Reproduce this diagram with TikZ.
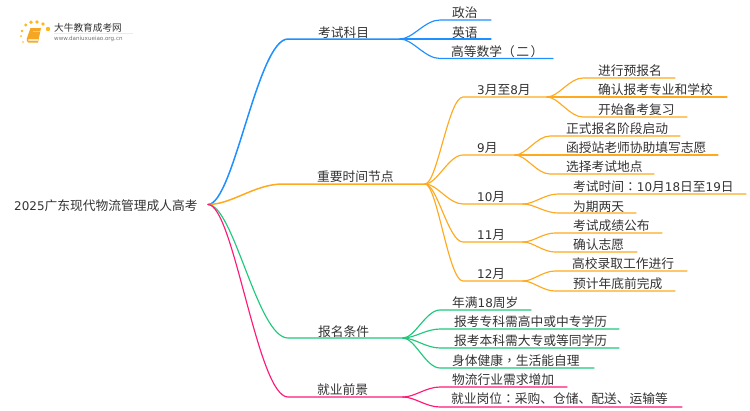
\documentclass[tikz,border=0pt]{standalone}
\usepackage{fontspec}
\setmainfont{Noto Sans CJK SC}
\newfontfamily\latfont{DejaVu Sans}
\newfontfamily\tcfont{Noto Sans CJK TC}
\newcommand{\lat}[1]{{\latfont\fontsize{12}{14}\selectfont #1}}
\newcommand{\tcp}[1]{{\tcfont #1}}
\definecolor{cblue}{HTML}{1E90FF}
\definecolor{corange}{HTML}{FFAA1E}
\definecolor{cgreen}{HTML}{1FC97C}
\definecolor{cpink}{HTML}{FF1A78}
\definecolor{ctext}{HTML}{333333}
\definecolor{cbook}{HTML}{F5A623}
\usetikzlibrary{calc}
\tikzset{
  lbl/.style={anchor=west,inner sep=0pt,yshift=-0.8bp,text=ctext,font=\fontsize{12.8}{14}\selectfont},
  conn/.style={line width=1.15pt,line cap=round},
  mainconn/.style={line width=1.5pt,line cap=round}
}
% \tw{colour}{style}{parent}{name}{xCurveEnd}{y}{xEnd}{textX}{textY}, text in \twtext
\newcommand{\twtext}{}
\newcommand{\tw}[9]{%
  \coordinate (#4s) at (#5,#6);
  \coordinate (#4) at (#7,#6);
  \coordinate (#4p) at ($(#3)!0.32!(#4s)$);
  \coordinate (#4q) at ($(#3)!0.62!(#4s)$);
  \node[lbl] (#4t) at (#8,#9) {\twtext};
  \draw[#1,#2] (#3) .. controls (#4p |- #3) and (#4q |- #4s) .. (#4s) -- (#4);
}
\begin{document}
\begin{tikzpicture}[x=1bp,y=-1bp]
\useasboundingbox (0,0) rectangle (750,410);
\fill[white] (0,0) rectangle (750,410);
% logo
\foreach \a/\b/\r in {25.7/25/1.6,22/31/1.3,21/36/1,23/42/.9,31/22.3/1.9,37/22/1.9,43/24/1.9,48/29/2.2}{
  \fill[corange!85!yellow] (\a,\b) circle (\r);
}
\fill[cbook] (30.5,28) -- (41,28) -- (38,42.5) -- (28.5,42.5) .. controls (26.5,42.5) and (26.5,40) .. (27,38) -- cycle;
\fill[white!70!cbook] (28.5,39) -- (38.5,39) -- (38,41) -- (28.3,41) -- cycle;
\draw[white!40!cbook,line width=.5pt] (33,31) -- (39.5,31);
\node[anchor=west,inner sep=0pt,text=ctext,font=\fontsize{9.7}{11}\selectfont] (logoa) at (54,27.5) {大牛教育成考网};
\node[anchor=west,inner sep=0pt,text=black!55,font=\latfont\fontsize{5.6}{7}\selectfont] (logob) at (54,38.8) {www.daniuxueiao.org.cn};
\draw[black!8,line width=.5pt] (54,33.5) -- (133,33.5);
% root
\node[lbl] (roott) at (14,205) {\lat{2025}广东现代物流管理成人高考};
\coordinate (root) at (208,204.5);
% level 1
\renewcommand{\twtext}{考试科目}
\tw{cblue}{mainconn}{root}{km}{288}{39}{400}{318}{32}
\renewcommand{\twtext}{重要时间节点}
\tw{corange}{mainconn}{root}{zy}{283}{184}{425}{317}{176}
\renewcommand{\twtext}{报名条件}
\tw{cgreen}{conn}{root}{bm}{288}{338}{403}{318}{331}
\renewcommand{\twtext}{就业前景}
\tw{cpink}{conn}{root}{jy}{288}{397}{403}{317}{389}
% subjects
\renewcommand{\twtext}{政治}
\tw{cblue}{conn}{km}{zz}{440}{20}{491}{452}{12}
\renewcommand{\twtext}{英语}
\tw{cblue}{conn}{km}{yy}{440}{39}{491}{452}{32}
\renewcommand{\twtext}{高等数学\tcp{（}\kern1.5pt二\kern1.5pt\tcp{）}}
\tw{cblue}{conn}{km}{gd}{440}{58.5}{553}{451}{51}
% months
\renewcommand{\twtext}{\lat{3}月至\lat{8}月}
\tw{corange}{conn}{zy}{ma}{463}{97}{547}{477}{89}
\renewcommand{\twtext}{\lat{9}月}
\tw{corange}{conn}{zy}{mb}{463}{155}{515}{477}{147}
\renewcommand{\twtext}{\lat{10}月}
\tw{corange}{conn}{zy}{mc}{463}{204}{523}{477}{196}
\renewcommand{\twtext}{\lat{11}月}
\tw{corange}{conn}{zy}{md}{463}{242}{523}{477}{234}
\renewcommand{\twtext}{\lat{12}月}
\tw{corange}{conn}{zy}{me}{463}{281}{523}{477}{273}
% 3-8
\renewcommand{\twtext}{进行预报名}
\tw{corange}{conn}{ma}{aa}{583}{78}{675}{598}{70}
\renewcommand{\twtext}{确认报考专业和学校}
\tw{corange}{conn}{ma}{ab}{583}{97}{727}{598}{89}
\renewcommand{\twtext}{开始备考复习}
\tw{corange}{conn}{ma}{ac}{583}{117}{687}{598}{109}
% 9
\renewcommand{\twtext}{正式报名阶段启动}
\tw{corange}{conn}{mb}{ba}{550}{136}{680}{566}{128}
\renewcommand{\twtext}{函授站老师协助填写志愿}
\tw{corange}{conn}{mb}{bb}{550}{155}{718}{566}{147}
\renewcommand{\twtext}{选择考试地点}
\tw{corange}{conn}{mb}{bc}{550}{174}{654}{566}{166}
% 10
\renewcommand{\twtext}{考试时间\tcp{：}\lat{10}月\lat{18}日至\lat{19}日}
\tw{corange}{conn}{mc}{ca}{558}{194}{746}{573}{186}
\renewcommand{\twtext}{为期两天}
\tw{corange}{conn}{mc}{cb}{558}{213}{636}{573}{206}
% 11
\renewcommand{\twtext}{考试成绩公布}
\tw{corange}{conn}{md}{da}{555}{233}{662}{573}{225}
\renewcommand{\twtext}{确认志愿}
\tw{corange}{conn}{md}{db}{555}{252}{637}{573}{244}
% 12
\renewcommand{\twtext}{高校录取工作进行}
\tw{corange}{conn}{me}{ea}{555}{271}{687}{572}{263}
\renewcommand{\twtext}{预计年底前完成}
\tw{corange}{conn}{me}{eb}{555}{291}{675}{573}{283}
% conditions
\renewcommand{\twtext}{年满\lat{18}周岁}
\tw{cgreen}{conn}{bm}{fa}{440}{310}{531}{452}{302}
\renewcommand{\twtext}{报考专科需高中或中专学历}
\tw{cgreen}{conn}{bm}{fb}{440}{329}{619}{454}{321}
\renewcommand{\twtext}{报考本科需大专或等同学历}
\tw{cgreen}{conn}{bm}{fc}{440}{348}{619}{454}{340}
\renewcommand{\twtext}{身体健康\tcp{，}生活能自理}
\tw{cgreen}{conn}{bm}{fd}{440}{368}{594}{452}{360}
% careers
\renewcommand{\twtext}{物流行业需求增加}
\tw{cpink}{conn}{jy}{ga}{440}{387}{567}{452}{379}
\renewcommand{\twtext}{就业岗位\tcp{：}采购、仓储、配送、运输等}
\tw{cpink}{conn}{jy}{gb}{440}{407}{682}{451}{398}
\end{tikzpicture}
\end{document}
